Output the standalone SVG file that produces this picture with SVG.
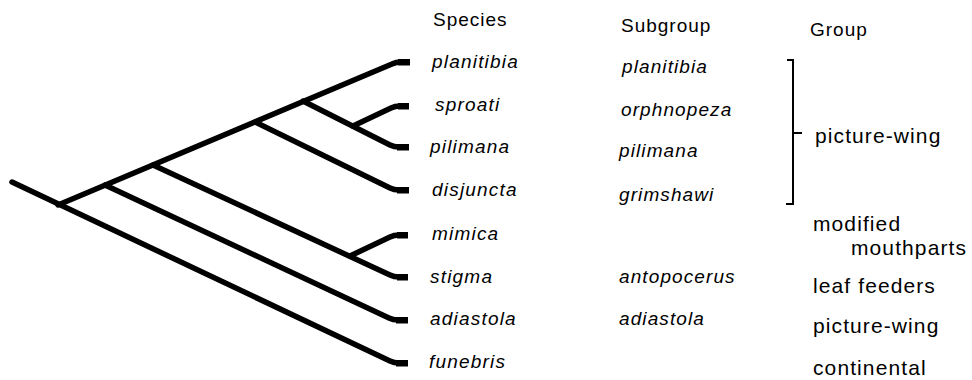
<svg xmlns="http://www.w3.org/2000/svg" width="972" height="380" viewBox="0 0 972 380">
<style>
.br{fill:none;stroke:#000;stroke-width:5.5;stroke-linejoin:round;stroke-linecap:round}
.stub{fill:#000}
.hd{font-family:"Liberation Sans",Arial,sans-serif;font-size:19px;letter-spacing:1px;fill:#000}
.sp{font-family:"Liberation Sans",Arial,sans-serif;font-size:19px;font-style:italic;letter-spacing:1.2px;fill:#000}
.sg{font-family:"Liberation Sans",Arial,sans-serif;font-size:19px;font-style:italic;letter-spacing:1.1px;fill:#000}
.gr{font-family:"Liberation Sans",Arial,sans-serif;font-size:21px;letter-spacing:1.1px;fill:#000}
.bk{fill:none;stroke:#000;stroke-width:2}
</style>
<rect width="972" height="380" fill="#fff"/>
<g id="connectors">
<path class="br" d="M58,205 L392,64 Q396,62 401,62"/>
<path class="br" d="M12,182 L390,361 Q394,363 399,363"/>
<path class="br" d="M105,185 L389,318 Q393,320 398,320"/>
<path class="br" d="M153,165 L390,275 Q394,277 399,277"/>
<path class="br" d="M350,256 L390,237 Q394,235 399,235"/>
<path class="br" d="M255,122 L390,188 Q394,190 399,190"/>
<path class="br" d="M303,101 L390,145 Q394,147 399,147"/>
<path class="br" d="M353,126 L391,108 Q395,106 400,106"/>
</g>
<g id="tips">
<rect class="stub" x="398" y="59" width="12" height="6.5"/>
<rect class="stub" x="398" y="103" width="11" height="6.5"/>
<rect class="stub" x="397" y="144" width="12" height="6.5"/>
<rect class="stub" x="397" y="187" width="12" height="6.5"/>
<rect class="stub" x="397" y="232" width="11" height="6.5"/>
<rect class="stub" x="397" y="274" width="11" height="6.5"/>
<rect class="stub" x="396" y="317" width="12" height="6.5"/>
<rect class="stub" x="396" y="360" width="12" height="6.5"/>
</g>
<g id="headers">
<text class="hd" x="433" y="26">Species</text>
<text class="hd" x="621" y="32">Subgroup</text>
<text class="hd" x="810" y="36">Group</text>
</g>
<g id="species">
<text class="sp" x="432" y="68">planitibia</text>
<text class="sp" x="435" y="111">sproati</text>
<text class="sp" x="430" y="153">pilimana</text>
<text class="sp" x="432" y="196">disjuncta</text>
<text class="sp" x="432" y="240">mimica</text>
<text class="sp" x="430" y="283">stigma</text>
<text class="sp" x="430" y="325">adiastola</text>
<text class="sp" x="429" y="368">funebris</text>
</g>
<g id="subgroups">
<text class="sg" x="622" y="73">planitibia</text>
<text class="sg" x="621" y="116">orphnopeza</text>
<text class="sg" x="619" y="157">pilimana</text>
<text class="sg" x="619" y="201">grimshawi</text>
<text class="sg" x="619" y="283">antopocerus</text>
<text class="sg" x="619" y="325">adiastola</text>
</g>
<g id="bracket">
<path class="bk" d="M787,60 L793,60 L793,204 L786,204"/>
<path class="bk" d="M793,133 L802,133"/>
</g>
<g id="groups">
<text class="gr" x="815" y="143">picture-wing</text>
<text class="gr" x="813" y="231">modified</text>
<text class="gr" x="851" y="255">mouthparts</text>
<text class="gr" x="813" y="293">leaf feeders</text>
<text class="gr" x="813" y="333">picture-wing</text>
<text class="gr" x="813" y="375">continental</text>
</g>
</svg>
